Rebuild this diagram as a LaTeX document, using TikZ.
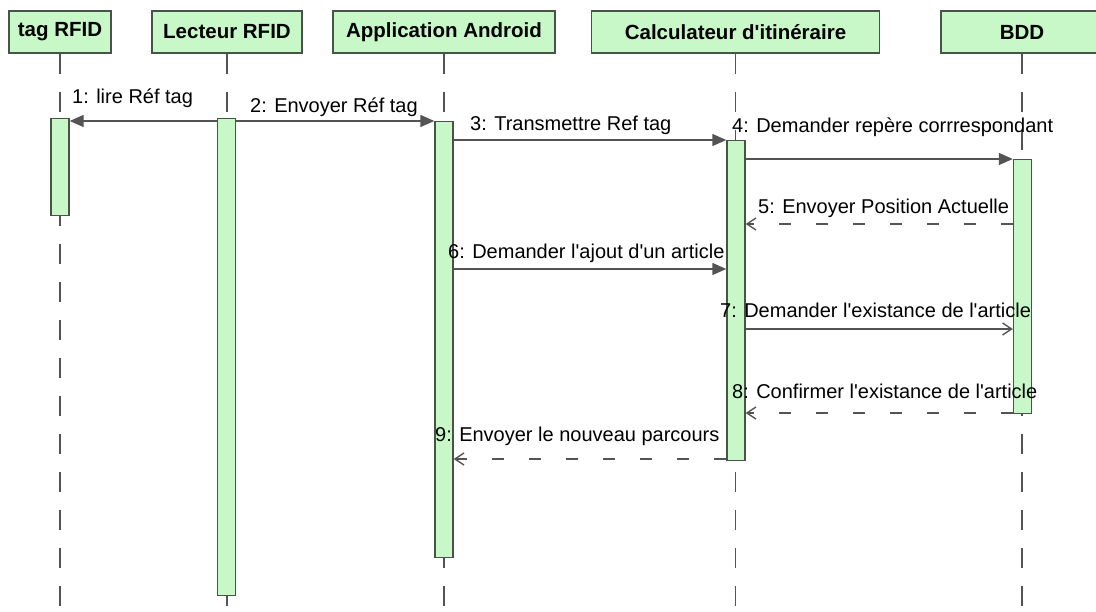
\documentclass[tikz,border=0pt]{standalone}
\usepackage{fontspec}
\setmainfont{Liberation Sans}
\usetikzlibrary{positioning, arrows.meta}
\definecolor{umlFill}{RGB}{200,248,200}
\definecolor{umlEdge}{RGB}{72,84,72}
\definecolor{msgGy}{RGB}{84,84,84}

\begin{document}
\begin{tikzpicture}[
  x=1pt, y=-1pt,
  font=\fontsize{20}{24}\selectfont,
  obj/.style  = {draw=umlEdge, fill=umlFill, line width=1.4pt, minimum height=42pt, inner sep=0pt, font=\fontsize{20.5}{24}\selectfont\bfseries},
  bar/.style  = {draw=umlEdge, fill=umlFill, line width=1.4pt, minimum width=18pt, inner sep=0pt, anchor=north},
  life/.style = {msgGy, line width=1.4pt, dash pattern=on 20pt off 18pt},
  call/.style = {msgGy, line width=1.4pt, -{Triangle[length=14pt, width=12pt]}},
  send/.style = {msgGy, line width=1.4pt, -{Straight Barb[length=9pt, width=12pt, line width=1.4pt]}},
  rply/.style = {send, dash pattern=on 12pt off 25pt},
  lbl/.style  = {anchor=base west, inner sep=0pt},
]
\clip (0,0) rectangle (1096,611);
\useasboundingbox (0,0) rectangle (1096,611);
% message: #1 style  #2 from  #3 to  #4 y
\newcommand{\umsg}[4]{%
  \coordinate (y#4) at (0,#4);%
  \draw[#1] (#2 |- y#4) -- (#3 |- y#4);%
}
\coordinate (bot) at (0,611);
% objects
\node[obj, minimum width=102pt] (tag)  at (60,32)    {tag RFID};
\node[obj, minimum width=150pt] (lect) at (227,32)   {Lecteur RFID};
\node[obj, minimum width=222pt] (appl) at (444,32)   {Application Android};
\node[obj, minimum width=288pt] (calc) at (735.5,32) {Calculateur d\textquotesingle itin\'eraire};
\node[obj, minimum width=162pt] (bdd)  at (1022,32)  {BDD};
\foreach \o in {tag, lect, appl, calc, bdd}
  \draw[life] (\o.south) -- (\o.south |- bot);
% activations
\node[bar, minimum height=97pt]  (actTag)  at (60,118)    {};
\node[bar, minimum height=477pt] (actLect) at (226.5,118) {};
\node[bar, minimum height=436pt] (actAppl) at (444,121)   {};
\node[bar, minimum height=320pt] (actCalc) at (736,140)   {};
\node[bar, minimum height=254pt] (actBdd)  at (1022.5,159) {};
% messages
\umsg{call}{actLect.west}{actTag.east}{121}
\umsg{call}{actLect.east}{actAppl.west}{121}
\umsg{call}{actAppl.east}{actCalc.west}{140}
\umsg{call}{actCalc.east}{actBdd.west}{159}
\umsg{rply}{actBdd.west}{actCalc.east}{224}
\umsg{call}{actAppl.east}{actCalc.west}{269}
\umsg{send}{actCalc.east}{actBdd.west}{329}
\umsg{rply}{actBdd.west}{actCalc.east}{413}
\umsg{rply}{actCalc.west}{actAppl.east}{459}
\node[lbl] (l1) at (72,103)  {1: lire R\'ef tag};
\node[lbl] (l2) at (250,112) {2: Envoyer R\'ef tag};
\node[lbl] (l3) at (470,130) {3: Transmettre Ref tag};
\node[lbl] (l4) at (732,132) {4: Demander rep\`ere corrrespondant};
\node[lbl] (l5) at (758,213) {5: Envoyer Position Actuelle};
\node[lbl] (l6) at (448,258) {6: Demander l\textquotesingle ajout d\textquotesingle un article};
\node[lbl] (l7) at (720,317) {7: Demander l\textquotesingle existance de l\textquotesingle article};
\node[lbl] (l8) at (732,398) {8: Confirmer l\textquotesingle existance de l\textquotesingle article};
\node[lbl] (l9) at (435,441) {9: Envoyer le nouveau parcours};
\end{tikzpicture}
\end{document}
